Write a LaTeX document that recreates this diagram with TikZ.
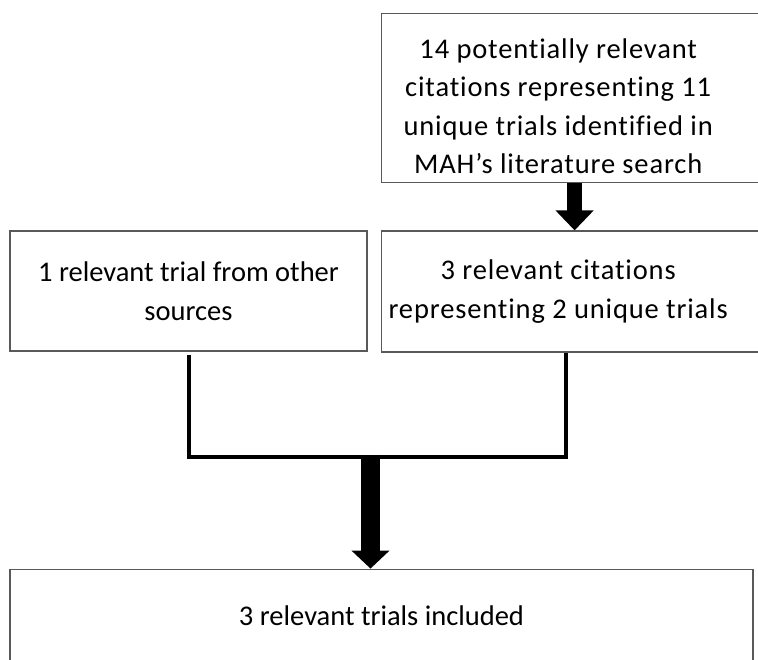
\documentclass[tikz,border=0pt]{standalone}
\usepackage{fontspec}
\setmainfont{Carlito}[Ligatures={TeX,NoCommon}]
\usepackage{tikz}
\usetikzlibrary{arrows.meta,positioning}

\begin{document}
\begin{tikzpicture}[
    x=1pt, y=1pt,
    box/.style={draw=black!65, line width=1.2pt, fill=white, inner sep=0pt, font=\fontsize{28.5}{38.5}\selectfont},
    widebox/.style={box, text width=415pt, align=left, font=\fontsize{28.5}{38.5}\selectfont\addfontfeature{LetterSpace=3}},
    conn/.style={line width=4pt},
    blockarrow/.style={-{Triangle[width=37pt,length=20pt]}, line width=15pt}
  ]
    \useasboundingbox (0,0) rectangle (758,659);
    \clip (0,0) rectangle (758,659);

    \node[box, align=center, minimum width=357pt, minimum height=120pt] (other) at (188.5,368) {1 relevant trial from other\\sources};
    \node[widebox, right=13pt of other.north east, anchor=north west, minimum height=121pt] (cites) {\parbox{354pt}{\spaceskip=0pt\xspaceskip=0pt\centering 3 relevant citations\\representing 2 unique trials}};
    \node[widebox, above=47pt of cites.north west, anchor=south west, minimum height=169pt] (search) {\parbox{354pt}{\spaceskip=0pt\xspaceskip=0pt\centering\vspace*{16pt}14 potentially relevant\\citations representing 11\\unique trials identified in\\MAH's literature search}};
    \node[box, below=217pt of other.south west, anchor=north west, align=center, minimum width=743pt, minimum height=93pt] (incl) {3 relevant trials included};

    \coordinate (searchout) at ([xshift=194pt]search.south west);
    \coordinate (citesout) at ([xshift=185pt]cites.south west);
    \coordinate (join) at ([xshift=-11pt, yshift=-105pt]other.south -| incl.north);

    \draw[blockarrow] (searchout) -- (searchout |- cites.north);
    \draw[conn] ([yshift=-3pt]other.south) -- ++(0,-102) -| (citesout);
    \draw[blockarrow, line width=19pt, -{Triangle[width=37pt,length=18pt]}] ([yshift=2pt]join) -- (join |- incl.north);
\end{tikzpicture}
\end{document}
